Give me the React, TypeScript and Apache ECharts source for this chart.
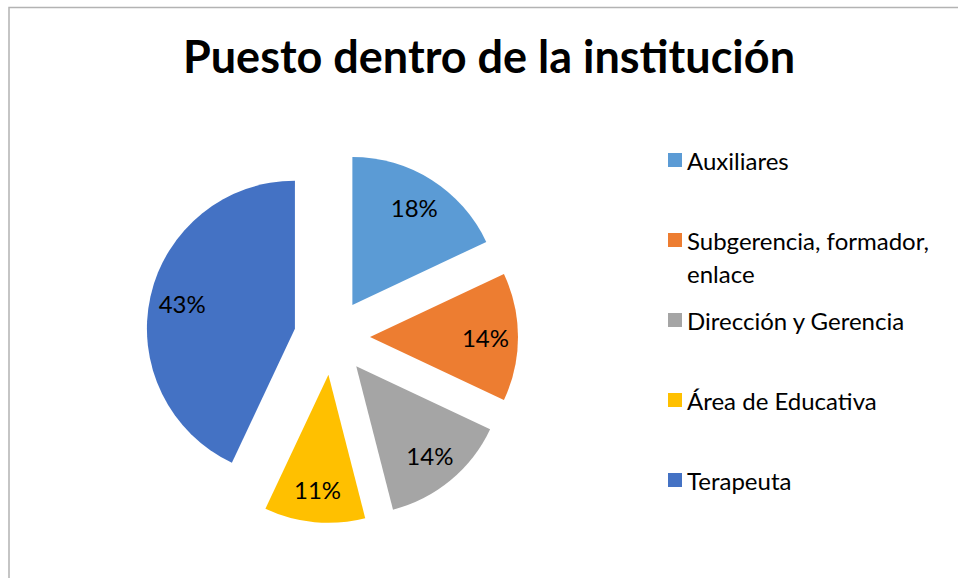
import React, { useEffect, useRef } from "react";
import * as echarts from "echarts";

const TITLE = "Puesto dentro de la institución";
const CATEGORIES = [
  "Auxiliares",
  "Subgerencia, formador, enlace",
  "Dirección y Gerencia",
  "Área de Educativa",
  "Terapeuta",
];
const VALUES = [18, 14, 14, 11, 43];
const COLORS = ["#5B9BD5", "#ED7D31", "#A5A5A5", "#FFC000", "#4472C4"];

const FONT = "Lato, 'Open Sans', sans-serif";

export default function App() {
  const ref = useRef<HTMLDivElement>(null);
  useEffect(() => {
    if (!ref.current) return;
    const chart = echarts.init(ref.current, undefined, { renderer: "svg" });
    const data = CATEGORIES.map((name, i) => ({
      name,
      value: VALUES[i],
      selected: true,
      itemStyle: { color: COLORS[i] },
    }));
    const labelData = CATEGORIES.map((name, i) => ({
      name,
      value: VALUES[i],
      selected: true,
    }));
    const center = [332, 337];
    const R = 148;
    chart.setOption({
      animation: false,
      backgroundColor: "#fff",
      title: {
        text: TITLE,
        left: 489,
        top: 33,
        textAlign: "center",
        padding: 0,
        textStyle: { fontFamily: FONT, fontWeight: "bold", fontSize: 45, color: "#000" },
      },
      legend: {
        orient: "vertical",
        left: 668,
        top: 148,
        padding: 0,
        itemWidth: 14,
        itemHeight: 14,
        itemGap: 56,
        icon: "rect",
        data: CATEGORIES,
        formatter: (name: string) =>
          name === "Subgerencia, formador, enlace" ? "Subgerencia, formador," : name,
        textStyle: { fontFamily: FONT, fontSize: 24, lineHeight: 24, color: "#000" },
      },
      graphic: [
        {
          type: "rect",
          z: -10,
          shape: { x: 9, y: 7.5, width: 2000, height: 2000 },
          style: { fill: "none", stroke: "#b3b3b3", lineWidth: 1.5 },
          silent: true,
        },
        {
          type: "text",
          x: 687,
          y: 273,
          style: {
            text: "enlace",
            fontFamily: FONT,
            fontSize: 24,
            fill: "#000",
            verticalAlign: "middle",
          },
          silent: true,
        },
      ],
      series: [
        {
          type: "pie",
          center,
          radius: [0, R],
          startAngle: 90,
          clockwise: true,
          selectedMode: "multiple",
          selectedOffset: 38,
          label: { show: false },
          labelLine: { show: false },
          emphasis: { disabled: true },
          data,
        },
        {
          type: "pie",
          center,
          radius: [R * 0.52, R],
          startAngle: 90,
          clockwise: true,
          selectedMode: "multiple",
          selectedOffset: 38,
          silent: true,
          legendHoverLink: false,
          itemStyle: { color: "rgba(0,0,0,0)" },
          label: {
            show: true,
            position: "inside",
            rotate: 0,
            formatter: "{c}%",
            fontFamily: FONT,
            fontSize: 24,
            color: "#000",
          },
          labelLine: { show: false },
          emphasis: { disabled: true },
          data: labelData,
        },
      ],
    });
    return () => chart.dispose();
  }, []);
  return (
    <div
      ref={ref}
      style={{ position: "absolute", left: 0, top: 0, width: 958, height: 578 }}
    />
  );
}
